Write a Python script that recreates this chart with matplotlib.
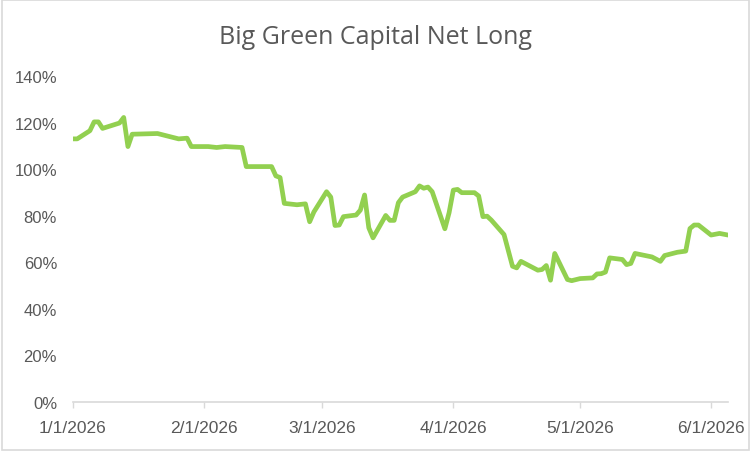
import matplotlib
matplotlib.use("Agg")
import matplotlib.pyplot as plt
import matplotlib.dates as mdates
from matplotlib.ticker import FuncFormatter, MultipleLocator
import pandas as pd

# vertices of the net long line
dates = ["2026-01-01", "2026-01-02", "2026-01-05", "2026-01-06", "2026-01-07", "2026-01-08",
         "2026-01-12", "2026-01-13", "2026-01-14", "2026-01-15", "2026-01-21", "2026-01-26",
         "2026-01-28", "2026-01-29", "2026-02-02", "2026-02-04", "2026-02-06", "2026-02-10",
         "2026-02-11", "2026-02-17", "2026-02-18", "2026-02-19", "2026-02-20", "2026-02-23",
         "2026-02-25", "2026-02-26", "2026-02-27", "2026-03-02", "2026-03-03", "2026-03-04",
         "2026-03-05", "2026-03-06", "2026-03-09", "2026-03-10", "2026-03-11", "2026-03-12",
         "2026-03-13", "2026-03-16", "2026-03-17", "2026-03-18", "2026-03-19", "2026-03-20",
         "2026-03-23", "2026-03-24", "2026-03-25", "2026-03-26", "2026-03-27", "2026-03-30",
         "2026-03-31", "2026-04-01", "2026-04-02", "2026-04-03", "2026-04-06", "2026-04-07",
         "2026-04-08", "2026-04-09", "2026-04-10", "2026-04-13", "2026-04-15", "2026-04-16",
         "2026-04-17", "2026-04-21", "2026-04-22", "2026-04-23", "2026-04-24", "2026-04-25",
         "2026-04-28", "2026-04-29", "2026-05-01", "2026-05-04", "2026-05-05", "2026-05-06",
         "2026-05-07", "2026-05-08", "2026-05-11", "2026-05-12", "2026-05-13", "2026-05-14",
         "2026-05-18", "2026-05-20", "2026-05-21", "2026-05-24", "2026-05-26", "2026-05-27",
         "2026-05-28", "2026-05-29", "2026-06-01", "2026-06-03", "2026-06-05"]
net_long = [113.0, 113.0, 116.5, 120.3, 120.3, 117.5,
            119.8, 122.2, 109.7, 115.0, 115.3, 113.0,
            113.3, 109.7, 109.7, 109.3, 109.7, 109.3,
            101.1, 101.1, 97.1, 96.4, 85.3, 84.7,
            85.1, 77.4, 81.6, 90.3, 88.0, 75.8,
            76.0, 79.6, 80.3, 82.4, 88.9, 74.8,
            70.5, 80.1, 78.0, 78.0, 85.6, 88.0,
            90.3, 92.8, 91.8, 92.3, 90.3, 74.4,
            81.3, 91.0, 91.3, 89.9, 89.9, 88.5,
            79.6, 79.8, 78.1, 71.9, 58.3, 57.6,
            60.4, 56.6, 56.9, 58.6, 52.3, 63.8,
            52.6, 52.1, 53.0, 53.3, 55.0, 55.1,
            55.8, 61.9, 61.2, 59.0, 59.5, 63.8,
            62.3, 60.4, 62.9, 64.3, 64.8, 74.5,
            76.0, 76.0, 71.7, 72.4, 71.7]

x = pd.to_datetime(dates)
y = [v / 100 for v in net_long]

grey = "#595959"
fig = plt.figure(figsize=(7.51, 4.52), dpi=100)
ax = fig.add_axes([73/751, 1-403/452, (728-73)/751, (403-77)/452])

ax.plot(x, y, color="#92D050", lw=3.4, solid_joinstyle="round", solid_capstyle="round")

ax.set_ylim(0, 1.4)
ax.yaxis.set_major_locator(MultipleLocator(0.2))
ax.yaxis.set_major_formatter(FuncFormatter(lambda v, p: "{:.0f}%".format(v*100)))
ax.set_xlim(x[0], x[-1])
ax.xaxis.set_major_locator(mdates.MonthLocator())
ax.xaxis.set_major_formatter(FuncFormatter(lambda v, p: "{d.month}/{d.day}/{d.year}".format(d=mdates.num2date(v))))

for s in ["top", "right", "left"]:
    ax.spines[s].set_visible(False)
ax.spines["bottom"].set_color("#D9D9D9")
ax.spines["bottom"].set_linewidth(1.2)
ax.tick_params(axis="y", length=0, pad=11.5, labelsize=12, labelcolor=grey, labelfontfamily="Liberation Sans")
ax.tick_params(axis="x", length=4, width=1.0, color="#D9D9D9", pad=9, labelsize=12.5, labelcolor=grey, labelfontfamily="Liberation Sans")

fig.text(0.5, 1-37/452, "Big Green Capital Net Long", ha="center", va="center",
         fontsize=18, color=grey, family="Open Sans")

fig.patches.append(plt.Rectangle((0.002, 0.003), 0.996, 0.994, transform=fig.transFigure,
                                 fill=False, edgecolor="#D9D9D9", lw=1.2))

fig.savefig("out.png", dpi=100)
